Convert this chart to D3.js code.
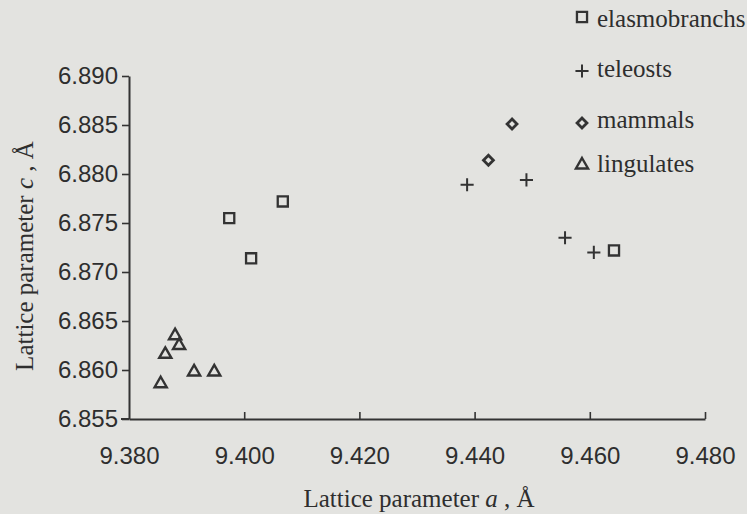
<!DOCTYPE html>
<html>
<head>
<meta charset="utf-8">
<script src="https://cdn.jsdelivr.net/npm/d3@7"></script>
<style>
  html, body { margin: 0; padding: 0; background: #e3e3e0; }
  svg { display: block; }
  .tick text { font-family: "Liberation Sans Narrow", "Liberation Sans", Arial, sans-serif; }
</style>
</head>
<body>
<div id="chart"></div>
<script>
// lattice parameters a, c (Å) per group
const elasmoA = [9.3974, 9.4067, 9.4012, 9.4642];
const elasmoC = [6.8755, 6.8772, 6.8714, 6.8722];
const teleostA = [9.4387, 9.4490, 9.4557, 9.4607];
const teleostC = [6.8789, 6.8794, 6.8735, 6.8720];
const mammalA = [9.4465, 9.4424];
const mammalC = [6.8851, 6.8814];
const lingulA = [9.3880, 9.3887, 9.3863, 9.3913, 9.3948, 9.3855];
const lingulC = [6.8635, 6.8625, 6.8616, 6.8598, 6.8598, 6.8586];

const groupNames = ['elasmobranchs', 'teleosts', 'mammals', 'lingulates'];
const xTicks = [9.38, 9.40, 9.42, 9.44, 9.46, 9.48];
const yTicks = [6.855, 6.860, 6.865, 6.870, 6.875, 6.880, 6.885, 6.890];

const width = 747;
const height = 514;
const ink = '#333';
const textInk = '#2e2e2e';

const svg = d3
  .select('#chart')
  .append('svg')
  .attr('width', width)
  .attr('height', height);

const x = d3.scaleLinear().domain([9.38, 9.48]).range([129, 705]);
const y = d3.scaleLinear().domain([6.855, 6.890]).range([419, 76]);

const symbols = {
  elasmobranchs: d3.symbol(d3.symbolSquare2, 130),
  teleosts: d3.symbol(d3.symbolPlus, 58),
  mammals: d3.symbol(d3.symbolDiamond2, 62),
  lingulates: d3.symbol(d3.symbolTriangle2, 105),
};
const strokeW = { elasmobranchs: 2.3, teleosts: 2, mammals: 2.8, lingulates: 2.4 };

const groups = [
  { name: 'elasmobranchs', a: elasmoA, c: elasmoC },
  { name: 'teleosts', a: teleostA, c: teleostC },
  { name: 'mammals', a: mammalA, c: mammalC },
  { name: 'lingulates', a: lingulA, c: lingulC },
];

// axes
const xAxis = svg
  .append('g')
  .attr('transform', `translate(0,${y(6.855)})`)
  .call(
    d3.axisBottom(x)
      .tickValues(xTicks)
      .tickFormat(d3.format('.3f'))
      .tickSizeInner(-7)
      .tickSizeOuter(0)
      .tickPadding(28),
  );

const yAxis = svg
  .append('g')
  .attr('transform', `translate(${x(9.38)},0)`)
  .call(
    d3.axisLeft(y)
      .tickValues(yTicks)
      .tickFormat(d3.format('.3f'))
      .tickSize(7)
      .tickSizeOuter(0)
      .tickPadding(4),
  );

[xAxis, yAxis].forEach(ax => {
  ax.select('.domain').attr('stroke', ink).attr('stroke-width', 2);
  ax.selectAll('.tick line').attr('stroke', ink).attr('stroke-width', 1.6);
  ax.selectAll('.tick text')
    .attr('fill', textInk)
    .style('font-size', '24px');
});
// the 9.380 tick sits on the corner
xAxis.selectAll('.tick').filter(d => d === 9.38).select('line').remove();

// x axis line runs a little past the y axis
svg
  .append('line')
  .attr('x1', x(9.38) - 8)
  .attr('x2', x(9.38))
  .attr('y1', y(6.855))
  .attr('y2', y(6.855))
  .attr('stroke', ink)
  .attr('stroke-width', 2);

// axis titles
svg
  .append('text')
  .attr('x', 419)
  .attr('y', 507)
  .attr('text-anchor', 'middle')
  .attr('fill', textInk)
  .style('font-family', '"Liberation Serif", "Times New Roman", serif')
  .style('font-size', '25px')
  .html('Lattice parameter <tspan font-style="italic">a</tspan> , Å');

svg
  .append('text')
  .attr('transform', 'translate(33,256) rotate(-90)')
  .attr('text-anchor', 'middle')
  .attr('fill', textInk)
  .style('font-family', '"Liberation Serif", "Times New Roman", serif')
  .style('font-size', '25px')
  .html('Lattice parameter <tspan font-style="italic">c</tspan> , Å');

// points
const plot = svg.append('g');
groups.forEach(g => {
  plot
    .append('g')
    .selectAll('path')
    .data(g.a.map((a, i) => ({ a: a, c: g.c[i] })))
    .join('path')
    .attr('transform', d => `translate(${x(d.a)},${y(d.c)})`)
    .attr('d', symbols[g.name])
    .attr('fill', 'none')
    .attr('stroke', ink)
    .attr('stroke-width', strokeW[g.name]);
});

// legend
const legendY = [17, 71, 123, 165];
const legend = svg
  .append('g')
  .selectAll('g')
  .data(groupNames)
  .join('g')
  .attr('transform', (d, i) => `translate(582,${legendY[i]})`);

legend
  .append('path')
  .attr('d', d => symbols[d]())
  .attr('fill', 'none')
  .attr('stroke', ink)
  .attr('stroke-width', d => strokeW[d]);

legend
  .append('text')
  .attr('x', 15)
  .attr('y', (d, i) => [10, 6, 5, 7][i])
  .attr('fill', textInk)
  .style('font-family', '"Liberation Serif", "Times New Roman", serif')
  .style('font-size', '25px')
  .text(d => d);
</script>
</body>
</html>
